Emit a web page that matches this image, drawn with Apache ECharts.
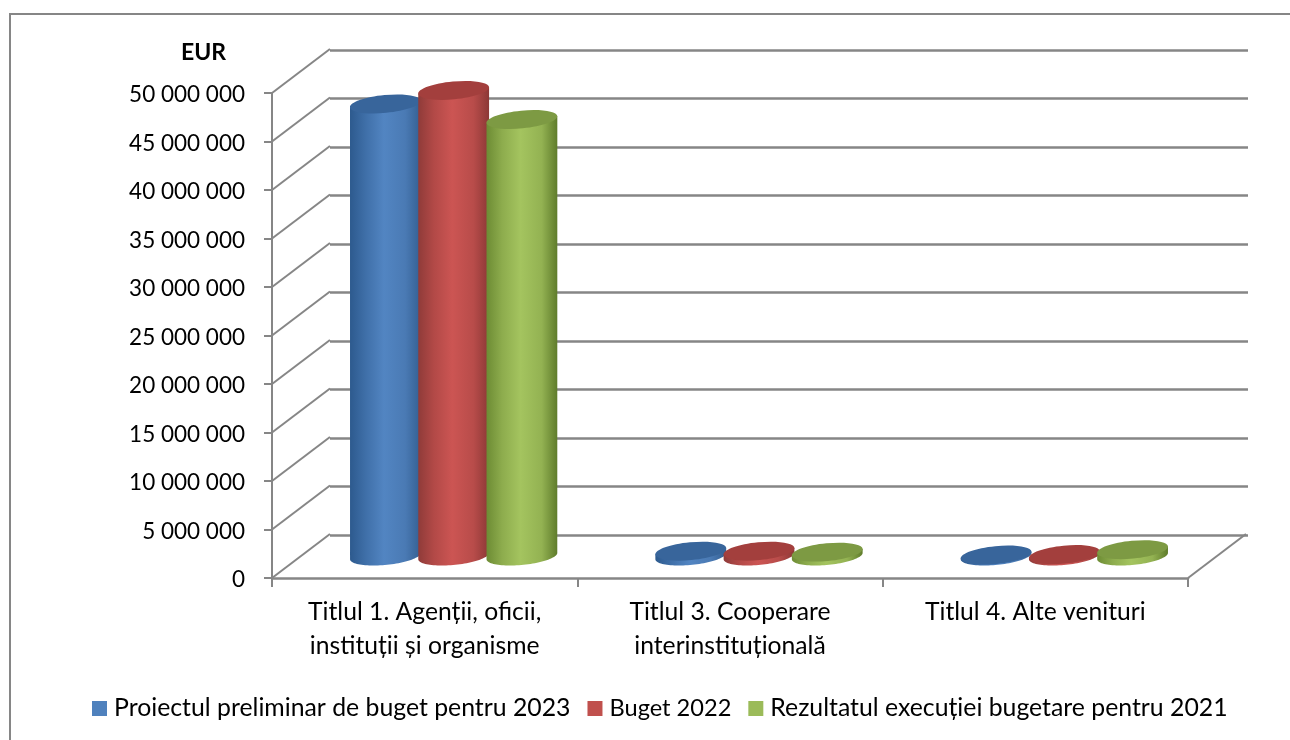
<!DOCTYPE html>
<html><head><meta charset="utf-8">
<style>html,body{margin:0;padding:0;background:#fff}#c{width:1290px;height:740px}</style>
<script src="https://cdn.jsdelivr.net/npm/echarts@6/dist/echarts.min.js"></script>
</head><body><div id="c"></div>
<script>
const categories = ['Titlul 1. Agenții, oficii,\ninstituții și organisme', 'Titlul 3. Cooperare\ninterinstituțională', 'Titlul 4. Alte venituri'];
const seriesNames = ['Proiectul preliminar de buget pentru 2023', 'Buget 2022', 'Rezultatul execuției bugetare pentru 2021'];
const budget2023 = [46600000, 500000, 100000];
const budget2022 = [48000000, 500000, 150000];
const execution2021 = [45000000, 400000, 650000];
const yTicks = [0, 5000000, 10000000, 15000000, 20000000, 25000000, 30000000, 35000000, 40000000, 45000000, 50000000];

const GREY = '#868686', FONT = 'Lato, "Open Sans", sans-serif';
const DEPTH_X = 58, DEPTH_Y = -44;
const TILT = 5.5 * Math.PI / 180;
const palette = [
  {legend:'#4f81bd', top:'#38659b', stops:['#2d5a8e','#3f6fa8','#5285c2','#4a7ab4','#345f92']},
  {legend:'#c0504d', top:'#a33f3d', stops:['#8f3b39','#b24947','#cc5553','#b84c4a','#8c3836']},
  {legend:'#9bbb59', top:'#7d9a43', stops:['#6d8c34','#8dac4d','#a4c45f','#93b252','#5f7c2b']}
];

function cylinder(idx) {
  return function (params, api) {
    const band = api.size([1, 0])[0];
    const rx = band * 0.1165, ry = 8.9;
    const off = (idx - 1) * band * 0.2235 + DEPTH_X / 2;
    const base = api.coord([api.value(0), 0]);
    const top = api.coord([api.value(0), api.value(1)]);
    const cx = base[0] + off, by = base[1] + DEPTH_Y / 2, ty = top[1] + DEPTH_Y / 2;
    const c = Math.cos(TILT), s = Math.sin(TILT);
    const pts = [];
    const start = Math.atan2(-ry * s, rx * c);
    const hx = Math.hypot(rx * c, ry * s);
    const dy = (rx * rx - ry * ry) * s * c / hx;
    pts.push([cx + hx, ty - dy]);
    for (let i = 0; i <= 48; i++) {
      const a = start + Math.PI * i / 48;
      const ex = rx * Math.cos(a), ey = ry * Math.sin(a);
      pts.push([cx + ex * c + ey * s, by - ex * s + ey * c]);
    }
    pts.push([cx - hx, ty + dy]);
    const st = palette[idx].stops;
    return {
      type: 'group',
      children: [
        {type: 'polygon', shape: {points: pts}, style: {
          fill: new echarts.graphic.LinearGradient(0, 0, 1, 0, [
            {offset: 0, color: st[0]}, {offset: 0.22, color: st[1]}, {offset: 0.48, color: st[2]},
            {offset: 0.78, color: st[3]}, {offset: 1, color: st[4]}
          ])
        }},
        {type: 'ellipse', x: cx, y: ty, rotation: TILT,
          shape: {cx: 0, cy: 0, rx: rx, ry: ry}, style: {fill: palette[idx].top}}
      ]
    };
  };
}

function diagonals(params, api) {
  const sys = params.coordSys;
  const p = api.coord([0, api.value(0)]);
  const lines = [[sys.x, p[1]]];
  if (api.value(0) === 0) lines.push([sys.x + sys.width, p[1]]);
  return {type: 'group', children: lines.map(l => ({
    type: 'line',
    shape: {x1: l[0], y1: l[1], x2: l[0] + DEPTH_X, y2: l[1] + DEPTH_Y},
    style: {stroke: GREY, lineWidth: 2}
  }))};
}

const seriesValues = [budget2023, budget2022, execution2021];
const chart = echarts.init(document.getElementById('c'), null, {renderer: 'canvas'});
chart.setOption({
  animation: false,
  backgroundColor: '#fff',
  graphic: [{type: 'rect', left: 9, top: 13, z: -1, silent: true,
    shape: {width: 1500, height: 900}, style: {fill: '#fff', stroke: GREY, lineWidth: 2}}],
  title: {text: 'EUR', left: 176, top: 36, textStyle: {fontFamily: FONT, fontSize: 23, fontWeight: 'bold', color: '#000'}},
  legend: {
    left: 87, top: 691, itemWidth: 15, itemHeight: 15, itemGap: 17, icon: 'rect',
    data: seriesNames.map((n, i) => i === 1 ? {name: n, textStyle: {fontSize: 23.6}} : {name: n}),
    selectedMode: false,
    textStyle: {fontFamily: FONT, fontSize: 24.8, color: '#000', padding: [0, 0, 0, 2]}
  },
  grid: [
    {left: 272, right: 102, top: 93, bottom: 162},
    {left: 330, right: 42, top: 50, bottom: 205},
    {left: 272, right: 102, top: 95, bottom: 160}
  ],
  xAxis: [
    {type: 'category', gridIndex: 0, data: categories,
      axisLine: {lineStyle: {color: GREY, width: 2.5}},
      axisTick: {show: true, length: 9, lineStyle: {color: GREY, width: 2}},
      axisLabel: {interval: 0, fontFamily: FONT, fontSize: 24.7, color: '#000', lineHeight: 34, margin: 17}},
    {type: 'category', gridIndex: 1, data: categories,
      axisLine: {show: false}, axisTick: {show: false}, axisLabel: {show: false}},
    {type: 'category', gridIndex: 2, data: categories, show: false}
  ],
  yAxis: [
    {type: 'value', gridIndex: 0, min: 0, max: 50000000, interval: 5000000,
      axisLine: {show: true, lineStyle: {color: GREY, width: 2}},
      axisTick: {show: true, length: 8, lineStyle: {color: GREY, width: 2}},
      splitLine: {show: false}, axisLabel: {show: false}},
    {type: 'value', gridIndex: 1, min: 0, max: 50000000, interval: 5000000,
      axisLine: {show: false}, axisTick: {show: false}, axisLabel: {show: false},
      splitLine: {show: true, lineStyle: {color: GREY, width: 2.5}}},
    {type: 'value', gridIndex: 2, min: 0, max: 50000000, interval: 5000000,
      axisLine: {show: false}, axisTick: {show: false}, splitLine: {show: false},
      axisLabel: {fontFamily: FONT, fontSize: 22.5, color: '#000', margin: 27, hideOverlap: false,
        formatter: v => String(v).replace(/\B(?=(\d{3})+$)/g, ' ')}}
  ],
  series: [
    {type: 'custom', xAxisIndex: 0, yAxisIndex: 0, silent: true, clip: false, z: 1,
      data: yTicks.map(v => [v]), encode: {y: 0}, renderItem: diagonals}
  ].concat(seriesNames.map((name, i) => ({
    type: 'custom', name: name, xAxisIndex: 0, yAxisIndex: 0, silent: true, clip: false, z: 3 + i,
    itemStyle: {color: palette[i].legend},
    data: seriesValues[i].map((v, k) => [k, v]),
    encode: {x: 0, y: 1},
    renderItem: cylinder(i)
  })))
});
</script></body></html>
